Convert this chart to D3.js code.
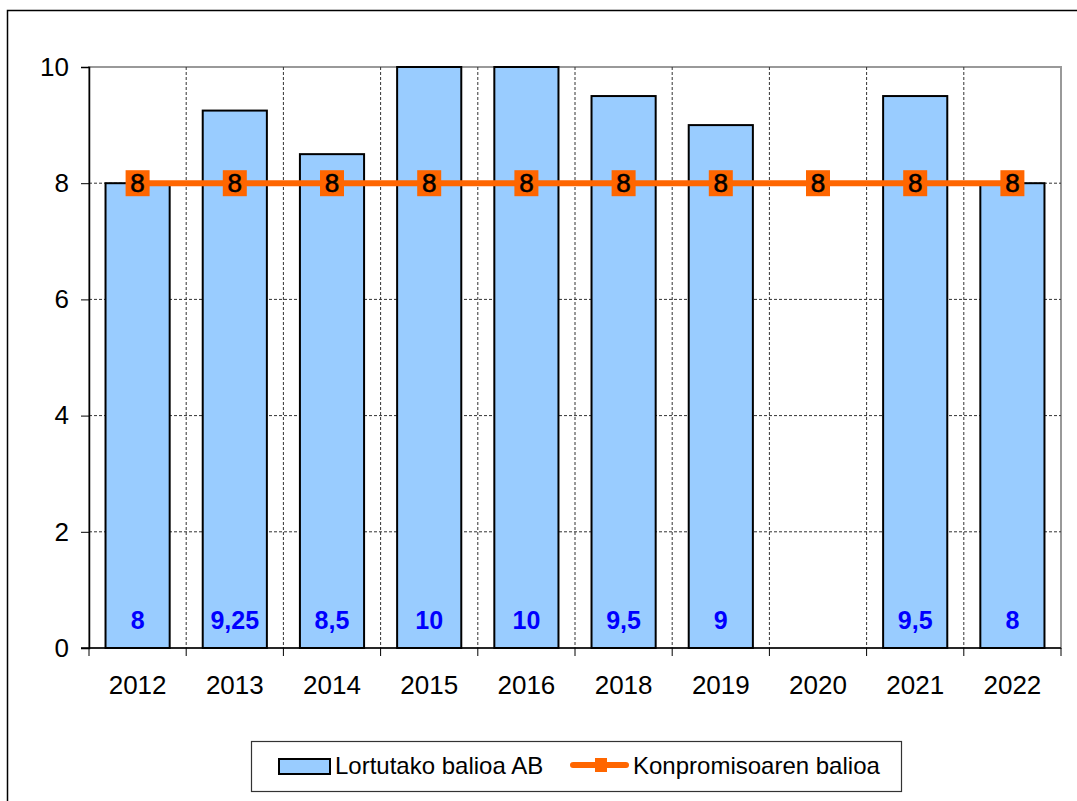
<!DOCTYPE html>
<html>
<head>
<meta charset="utf-8">
<script src="https://cdn.jsdelivr.net/npm/d3@7"></script>
<style>
	body { margin: 0; background: #fff; }
	svg { font-family: "Liberation Sans", Arial, sans-serif; }
</style>
</head>
<body>
<div id="chart"></div>
<script>
const BAR_COLOR = "#99ccff";
const LINE_COLOR = "#ff6600";
const LABEL_COLOR = "#0000ff";

const years = ["2012", "2013", "2014", "2015", "2016", "2018", "2019", "2020", "2021", "2022"];
const obtained = [8, 9.25, 8.5, 10, 10, 9.5, 9, null, 9.5, 8];
const commitment = [8, 8, 8, 8, 8, 8, 8, 8, 8, 8];
const yTicks = [0, 2, 4, 6, 8, 10];
const seriesNames = ["Lortutako balioa AB", "Konpromisoaren balioa"];

const width = 1077;
const height = 801;
const plot = { left: 89, top: 67, right: 1061, bottom: 648 };

const svg = d3.select("#chart")
	.append("svg")
	.attr("width", width)
	.attr("height", height);

// outer chart frame (runs off the right and bottom edge)
svg.append("rect")
	.attr("x", 7.5).attr("y", 10.5)
	.attr("width", 1100).attr("height", 820)
	.attr("fill", "#fff")
	.attr("stroke", "#000")
	.attr("stroke-width", 1.5);

const x = d3.scaleBand()
	.domain(years)
	.range([plot.left, plot.right])
	.paddingInner(0.34)
	.paddingOuter(0.17);

const y = d3.scaleLinear()
	.domain([0, 10])
	.range([plot.bottom, plot.top]);

const fmt = v => String(v).replace(".", ",");

// plot area border (gray top/right)
svg.append("rect")
	.attr("x", plot.left).attr("y", plot.top)
	.attr("width", plot.right - plot.left)
	.attr("height", plot.bottom - plot.top)
	.attr("fill", "none")
	.attr("stroke", "#999")
	.attr("stroke-width", 2);

// horizontal grid
svg.append("g")
	.selectAll("line")
	.data(yTicks.filter(t => t > 0 && t < 10))
	.join("line")
	.attr("x1", plot.left).attr("x2", plot.right)
	.attr("y1", d => y(d)).attr("y2", d => y(d))
	.attr("stroke", "#333")
	.attr("stroke-width", 1)
	.attr("stroke-dasharray", "3,2");

// vertical grid at category boundaries
const step = x.step();
const bounds = d3.range(1, years.length).map(i => plot.left + i * step);
svg.append("g")
	.selectAll("line")
	.data(bounds)
	.join("line")
	.attr("x1", d => d).attr("x2", d => d)
	.attr("y1", plot.top).attr("y2", plot.bottom)
	.attr("stroke", "#333")
	.attr("stroke-width", 1)
	.attr("stroke-dasharray", "3,2");

// bars
svg.append("g")
	.selectAll("rect")
	.data(years.map((d, i) => ({ year: d, v: obtained[i] })).filter(d => d.v != null))
	.join("rect")
	.attr("x", d => x(d.year))
	.attr("y", d => y(d.v))
	.attr("width", x.bandwidth())
	.attr("height", d => y(0) - y(d.v))
	.attr("fill", BAR_COLOR)
	.attr("stroke", "#000")
	.attr("stroke-width", 2);

// y axis
const yAxis = d3.axisLeft(y)
	.tickValues(yTicks)
	.tickSize(8)
	.tickPadding(12)
	.tickFormat(d3.format("d"));
svg.append("g")
	.attr("transform", "translate(" + plot.left + ",0)")
	.call(yAxis)
	.call(g => g.select(".domain").attr("stroke", "#000").attr("stroke-width", 1.5))
	.call(g => g.selectAll(".tick line").attr("stroke", "#000"))
	.call(g => g.selectAll("text").attr("font-size", 26).attr("fill", "#000"));

// x axis
svg.append("line")
	.attr("x1", plot.left - 8).attr("x2", plot.right)
	.attr("y1", plot.bottom).attr("y2", plot.bottom)
	.attr("stroke", "#000").attr("stroke-width", 1.5);
svg.append("g")
	.selectAll("line")
	.data([plot.left].concat(bounds).concat([plot.right]))
	.join("line")
	.attr("x1", d => d).attr("x2", d => d)
	.attr("y1", plot.bottom).attr("y2", plot.bottom + 8)
	.attr("stroke", "#000");
svg.append("g")
	.selectAll("text")
	.data(years)
	.join("text")
	.attr("x", d => x(d) + x.bandwidth() / 2)
	.attr("y", plot.bottom + 46)
	.attr("text-anchor", "middle")
	.attr("font-size", 26)
	.text(d => d);

// bar value labels
svg.append("g")
	.selectAll("text")
	.data(years.map((d, i) => ({ year: d, v: obtained[i] })).filter(d => d.v != null))
	.join("text")
	.attr("x", d => x(d.year) + x.bandwidth() / 2)
	.attr("y", plot.bottom - 19)
	.attr("text-anchor", "middle")
	.attr("font-size", 25)
	.attr("font-weight", "bold")
	.attr("fill", LABEL_COLOR)
	.text(d => fmt(d.v));

// commitment line
const cx = d => x(d) + x.bandwidth() / 2;
const line = d3.line()
	.x((d, i) => cx(years[i]))
	.y(d => y(d));
svg.append("path")
	.datum(commitment)
	.attr("d", line)
	.attr("fill", "none")
	.attr("stroke", LINE_COLOR)
	.attr("stroke-width", 6);

const markers = svg.append("g")
	.selectAll("g")
	.data(commitment)
	.join("g")
	.attr("transform", (d, i) => "translate(" + cx(years[i]) + "," + y(d) + ")");
markers.append("rect")
	.attr("x", -12).attr("y", -13)
	.attr("width", 24).attr("height", 26)
	.attr("fill", LINE_COLOR);
markers.append("text")
	.attr("y", 9)
	.attr("text-anchor", "middle")
	.attr("font-size", 26)
	.attr("fill", "#000")
	.attr("stroke", "#000")
	.attr("stroke-width", 0.6)
	.text(d => fmt(d));

// legend
const legend = svg.append("g");
legend.append("rect")
	.attr("x", 251.5).attr("y", 741.5)
	.attr("width", 650).attr("height", 50)
	.attr("fill", "#fff")
	.attr("stroke", "#333")
	.attr("stroke-width", 1.2);
legend.append("rect")
	.attr("x", 279).attr("y", 759)
	.attr("width", 51).attr("height", 15)
	.attr("fill", BAR_COLOR)
	.attr("stroke", "#000")
	.attr("stroke-width", 2);
legend.append("text")
	.attr("x", 335).attr("y", 774)
	.attr("font-size", 24)
	.text(seriesNames[0]);
legend.append("line")
	.attr("x1", 573).attr("x2", 626)
	.attr("y1", 765).attr("y2", 765)
	.attr("stroke", LINE_COLOR)
	.attr("stroke-width", 6)
	.attr("stroke-linecap", "round");
legend.append("rect")
	.attr("x", 595).attr("y", 758)
	.attr("width", 12).attr("height", 14)
	.attr("fill", LINE_COLOR);
legend.append("text")
	.attr("x", 633).attr("y", 774)
	.attr("font-size", 24)
	.text(seriesNames[1]);
</script>
</body>
</html>
